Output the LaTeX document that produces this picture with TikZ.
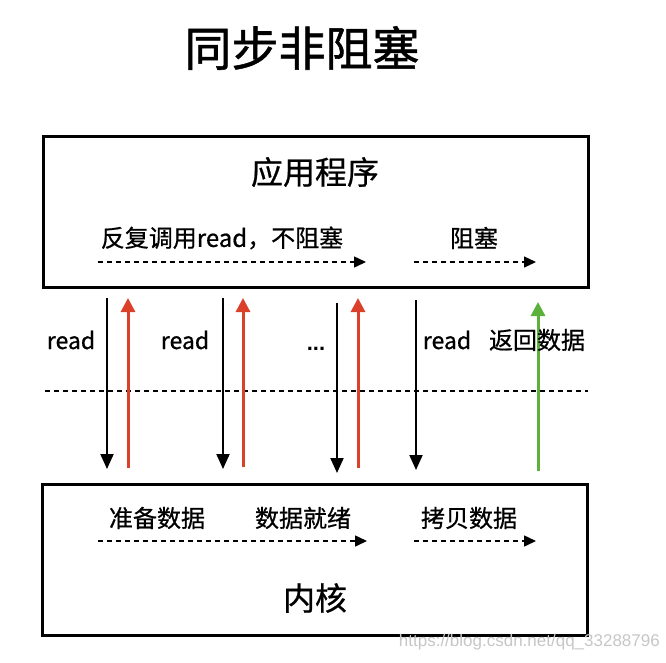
\documentclass[tikz,border=0pt]{standalone}
\usepackage{fontspec}
\setmainfont{Noto Sans CJK SC}
\newfontfamily\medfont{Noto Sans CJK SC}[FakeBold=0.7]
\newfontfamily\titlefont{Noto Sans CJK SC}[FakeBold=1.2]
\newfontfamily\wmfont{Liberation Sans}
\usetikzlibrary{arrows.meta}
\definecolor{redarr}{RGB}{218,64,42}
\definecolor{greenarr}{RGB}{92,176,60}
\definecolor{wm}{RGB}{198,198,198}
\tikzset{
  box/.style={draw=black, line width=3pt, minimum width=545pt, minimum height=151pt, inner sep=0pt},
  bigtxt/.style={font=\medfont\fontsize{32}{35}\selectfont, inner sep=0pt},
  midtxt/.style={font=\medfont\fontsize{24}{27}\selectfont, inner sep=0pt},
  readtxt/.style={font=\medfont\fontsize{23}{26}\selectfont, inner sep=0pt},
  flow/.style={line width=1.5pt, dash pattern=on 5pt off 4pt, -{Triangle[width=11pt,length=12pt]}},
  callarr/.style={line width=2pt, -{Triangle[width=13pt,length=15pt]}},
  retarr/.style={line width=3pt, -{Triangle[width=14pt,length=14pt]}},
  sep/.style={line width=1.5pt, dash pattern=on 5pt off 4pt}
}
\begin{document}
\begin{tikzpicture}[x=1pt,y=-1pt]
\useasboundingbox (0,0) rectangle (666,662);
% title
\node[font=\titlefont\fontsize{47}{52}\selectfont, inner sep=0pt] (title) at (302,48) {同步非阻塞};
% application box
\node[box] (app) at (315.5,212) {};
\node[bigtxt] (apptxt) at (315,172) {应用程序};
\node[midtxt] (nb) at (222,238) {反复调用read，不阻塞};
\node[midtxt] (blk) at (474,238) {阻塞};
\coordinate (a1s) at (98,262); \coordinate (a1e) at (366,262);
\coordinate (a2s) at (414,262); \coordinate (a2e) at (536,262);
\draw[flow] (a1s) -- (a1e);
\draw[flow] (a2s) -- (a2e);
% kernel box
\node[box] (ker) at (314.5,559.5) {};
\node[midtxt] (prep) at (157,518) {准备数据};
\node[midtxt] (ready) at (303,518) {数据就绪};
\node[midtxt] (copy) at (469,518) {拷贝数据};
\node[bigtxt] (kertxt) at (315,598) {内核};
\coordinate (k1s) at (98,541); \coordinate (k1e) at (367,541);
\coordinate (k2s) at (414,541); \coordinate (k2e) at (536,541);
\draw[flow] (k1s) -- (k1e);
\draw[flow] (k2s) -- (k2e);
% separator
\coordinate (sl) at (45,391); \coordinate (sr) at (588,391);
\draw[sep] (sl) -- (sr);
% vertical arrows
\coordinate (b1t) at (107,298); \coordinate (b1b) at (107,469);
\coordinate (r1t) at (128,298); \coordinate (r1b) at (128,468);
\coordinate (b2t) at (223,298); \coordinate (b2b) at (223,469);
\coordinate (r2t) at (243,298); \coordinate (r2b) at (243,467);
\coordinate (b3t) at (337,303); \coordinate (b3b) at (337,473);
\coordinate (r3t) at (358,298); \coordinate (r3b) at (358,468);
\coordinate (b4t) at (416,300); \coordinate (b4b) at (416,470);
\coordinate (gt) at (538,302); \coordinate (gb) at (538,471);
\draw[callarr] (b1t) -- (b1b);
\draw[retarr, draw=redarr, fill=redarr] (r1b) -- (r1t);
\draw[callarr] (b2t) -- (b2b);
\draw[retarr, draw=redarr, fill=redarr] (r2b) -- (r2t);
\draw[callarr] (b3t) -- (b3b);
\draw[retarr, draw=redarr, fill=redarr] (r3b) -- (r3t);
\draw[callarr] (b4t) -- (b4b);
\draw[retarr, draw=greenarr, fill=greenarr] (gb) -- (gt);
% labels
\node[readtxt] (l1) at (71,340) {read};
\node[readtxt] (l2) at (185,340) {read};
\node[font=\wmfont\bfseries\fontsize{22}{24}\selectfont, inner sep=0pt, anchor=base] (l3) at (316,350) {...};
\node[readtxt] (l4) at (447,340) {read};
\node[midtxt] (l5) at (537,340) {返回数据};
% watermark
\node[anchor=east, inner sep=0pt, text=wm, font=\wmfont\fontsize{17}{19}\selectfont] (wmk) at (660,642) {https://blog.csdn.net/qq\_33288796};
\end{tikzpicture}
\end{document}
